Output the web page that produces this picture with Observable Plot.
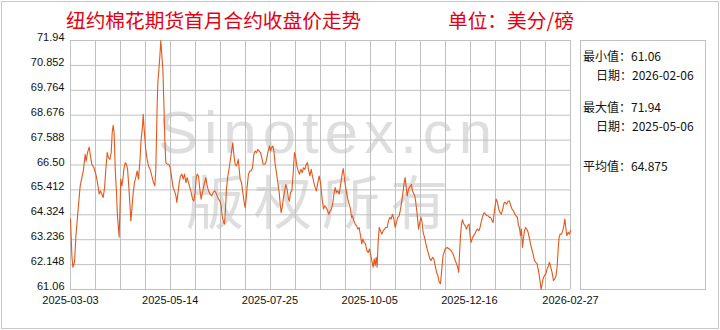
<!DOCTYPE html>
<html><head><meta charset="utf-8">
<script src="https://cdn.jsdelivr.net/npm/d3@7"></script>
<script src="https://cdn.jsdelivr.net/npm/@observablehq/plot@0.6"></script>
<style>
body{margin:0;background:#fff;}
#wrap{position:relative;width:720px;height:330px;overflow:hidden;background:#fff;font-family:"Noto Sans CJK SC",sans-serif;}
#frame{position:absolute;left:1px;top:1px;width:716px;height:326px;border:1px solid #c8c8c8;}
#wm{position:absolute;left:158px;top:108px;color:#dedede;white-space:nowrap;}
#wm1{display:block;font:60px/50px "Liberation Sans",Arial,sans-serif;letter-spacing:6px;}
#wm2{display:block;margin-left:28px;margin-top:14px;font:58px/54px "Noto Sans CJK SC",sans-serif;letter-spacing:10px;}
#chart{position:absolute;left:0;top:0;}
.ttl{position:absolute;top:8px;font-size:19.7px;line-height:24px;color:#e50012;white-space:nowrap;}
#title{left:66px;}
#unit{left:448px;}
#panel{position:absolute;left:580px;top:40px;width:124px;height:248px;border:1px solid #c0c0c0;}
.pl{position:absolute;font-size:12px;line-height:16px;color:#111;white-space:nowrap;}
</style></head><body>
<div id="wrap">
 <div id="frame"></div>
 <div id="wm"><span id="wm1">Sinotex.cn</span><span id="wm2">版权所有</span></div>
 <div id="chart"></div>
 <div id="title" class="ttl"></div>
 <div id="unit" class="ttl"></div>
 <div id="panel"></div>
 <div id="pl1" class="pl" style="left:583px;top:48px"></div>
 <div id="pl2" class="pl" style="left:596px;top:67px"></div>
 <div id="pl3" class="pl" style="left:583px;top:99px"></div>
 <div id="pl4" class="pl" style="left:596px;top:118px"></div>
 <div id="pl5" class="pl" style="left:583px;top:158px"></div>
</div>
<script>
const titleText = "纽约棉花期货首月合约收盘价走势";
const unitText = "单位：美分/磅";
const startDate = "2025-03-03";
const endDate = "2026-02-27";
const xTickLabels = ["2025-03-03","2025-05-14","2025-07-25","2025-10-05","2025-12-16","2026-02-27"];
const yTicks = [61.06,62.148,63.236,64.324,65.412,66.50,67.588,68.676,69.764,70.852,71.94];
const yTickLabels = ["61.06","62.148","63.236","64.324","65.412","66.50","67.588","68.676","69.764","70.852","71.94"];
const minValue = "61.06", minDate = "2026-02-06";
const maxValue = "71.94", maxDate = "2025-05-06";
const avgValue = "64.875";

// days after startDate
const dayOffset = [
0,1.0,1.7,2.9,3.9,5.3,7.0,8.2,9.4,10.6,11.3,12.3,13.5,14.4,15.4,16.9,18.3,19.5,20.7,21.7,22.6,23.6,24.6,25.5,26.5,27.4,28.4,29.4,30.1,30.8,31.5,32.3,33.2,33.9,34.7,35.1,35.6,36.3,37.1,37.8,38.5,39.5,40.4,41.2,41.9,42.8,43.6,44.3,45.3,46.2,47.4,48.1,49.1,50.1,51.0,52.0,52.5,53.2,54.2,55.1,56.3,57.5,58.7,59.9,60.9,61.6,62.1,62.6,63.1,63.8,64.5,65.2,66.0,66.7,67.4,68.1,68.8,70.0,71.2,72.2,73.2,74.1,75.1,76.1,76.8,77.5,78.5,79.4,80.4,81.4,82.3,83.3,84.2,85.2,86.2,87.1,88.1,89.1,90.0,90.7,
91.4,92.4,93.4,94.3,95.3,96.5,97.7,98.7,99.6,100.8,102.0,103.0,104.0,104.9,105.9,106.9,107.8,108.8,109.5,110.5,111.2,111.9,112.6,113.6,114.6,115.5,116.5,117.2,117.9,118.9,119.6,120.3,121.1,121.8,122.5,123.5,124.4,125.4,126.1,126.8,127.6,128.5,129.5,130.4,131.4,132.4,133.3,134.3,135.3,136.2,137.2,138.1,139.1,140.1,141.0,142.0,143.0,143.7,144.4,145.1,146.1,146.8,147.8,148.7,149.7,150.7,151.4,152.1,152.8,153.6,154.5,155.5,156.4,157.4,158.1,158.8,159.8,160.8,161.7,162.5,163.4,164.4,165.3,166.3,167.3,168.2,169.2,170.2,171.1,171.8,172.8,173.8,174.7,175.7,176.7,177.6,178.6,179.5,180.5,
181.0,181.7,182.7,183.6,184.6,185.6,186.5,187.5,188.4,189.4,190.4,191.1,192.0,193.0,194.0,194.9,195.9,196.9,197.6,198.3,199.3,200.2,201.2,202.2,202.9,203.6,204.6,205.5,206.5,207.5,208.4,209.4,210.3,211.1,212.0,213.0,214.0,214.9,215.9,216.8,217.8,218.5,219.3,220.0,220.7,221.4,222.1,222.9,223.8,224.8,225.8,226.7,227.7,228.6,229.6,230.6,231.5,232.5,233.5,234.4,235.4,236.3,237.3,238.3,239.2,240.2,240.9,241.6,242.4,243.1,243.8,244.5,245.5,246.2,246.9,247.9,248.6,249.3,250.3,251.3,252.2,253.0,253.9,254.6,255.6,256.6,257.5,258.5,259.5,260.4,261.4,262.3,263.3,264.3,265.2,266.2,267.1,
268.1,269.0,270.5,271.9,273.4,274.8,276.2,277.4,278.7,279.6,280.3,280.8,281.5,282.3,283.0,284.0,284.9,285.9,286.8,287.8,288.5,289.2,290.0,290.9,291.9,292.9,293.8,294.8,295.7,296.7,297.7,298.6,299.6,300.6,301.5,302.5,303.4,304.4,305.1,305.9,306.6,307.3,308.3,309.2,310.2,311.1,312.1,313.1,314.0,315.0,316.0,316.9,317.9,318.8,319.8,320.8,321.7,322.7,323.4,324.1,324.9,325.6,326.3,327.0,327.8,328.5,329.4,330.4,331.4,332.1,333.0,334.0,335.0,335.9,336.9,337.6,338.3,339.1,339.8,340.5,341.2,342.2,343.2,344.1,345.1,345.8,346.8,347.7,348.7,349.7,350.6,351.4,352.1,352.8,353.5,354.5,355.4,356.2,356.9,357.6,358.3,359.3,360.2,361.0
];
const closePrice = [
64.14,62.54,62.03,62.25,63.41,64.42,65.59,65.95,66.31,66.97,66.67,67.04,67.28,66.89,66.53,66.38,66.10,65.73,65.23,65.37,65.23,65.08,65.51,66.31,67.04,66.82,66.75,67.04,67.91,68.23,67.91,66.31,65.30,64.28,63.70,63.34,64.28,65.88,65.59,65.88,66.31,66.60,66.53,66.31,65.73,64.86,64.06,64.57,65.30,65.73,66.02,66.24,65.88,66.67,67.62,68.20,68.71,68.05,67.25,66.82,66.46,66.31,66.02,65.73,65.59,66.31,67.76,69.21,70.16,70.66,71.24,71.94,71.24,70.66,69.21,67.62,66.60,66.53,66.53,66.31,65.88,65.51,65.37,65.15,64.86,65.23,65.73,66.02,66.10,65.88,66.10,65.73,65.95,65.73,65.51,65.30,65.01,64.93,65.30,65.88,
66.10,66.02,65.44,65.01,65.30,65.66,65.95,65.59,65.37,65.23,65.15,65.30,65.37,65.30,65.15,65.01,64.93,64.72,64.28,63.99,63.92,64.57,65.44,66.02,66.38,66.75,67.18,67.47,66.97,66.53,66.46,66.53,66.75,66.31,65.88,65.73,65.30,64.86,64.64,65.01,65.59,66.10,66.24,66.24,66.38,66.97,67.11,67.04,67.18,67.11,67.04,66.82,66.53,66.53,66.60,66.89,67.18,67.33,67.11,67.25,67.33,67.11,66.53,66.17,65.73,65.30,64.79,64.42,64.64,65.01,65.30,65.66,65.44,65.01,64.93,65.30,65.37,66.17,67.04,66.89,66.46,66.24,66.10,66.31,66.17,66.38,66.31,66.53,66.60,66.31,66.02,66.31,66.02,65.73,65.51,65.37,65.73,66.02,65.73,
65.44,65.01,64.57,64.72,64.64,64.50,64.35,64.50,64.57,64.86,65.30,65.51,65.30,65.37,65.23,65.59,66.02,66.34,66.02,65.66,65.30,65.01,64.79,64.57,64.21,64.28,64.06,63.92,63.85,63.70,63.77,63.41,63.05,63.27,63.12,63.05,62.76,62.68,62.83,62.54,62.25,62.03,62.40,62.10,62.47,62.03,63.12,63.77,63.63,63.48,63.63,63.70,63.77,63.77,64.06,64.21,64.14,64.35,64.14,63.77,63.99,64.21,64.28,64.57,64.93,65.37,65.73,65.95,65.51,65.15,65.37,65.51,65.59,65.66,65.37,65.23,65.15,64.86,64.35,63.70,63.99,64.21,63.99,63.56,63.34,63.05,62.83,62.61,62.40,62.32,62.47,62.40,62.10,61.81,61.67,61.38,61.31,
61.96,62.54,62.83,62.90,62.83,62.76,62.61,62.40,62.18,62.03,61.81,62.54,63.34,63.92,64.11,63.92,63.85,63.70,63.85,63.92,63.41,63.12,63.27,63.41,63.48,63.63,63.70,63.63,63.77,64.06,64.28,64.42,64.35,64.28,64.28,64.21,64.21,64.06,63.99,64.42,64.72,65.01,64.86,64.57,64.42,64.35,64.57,64.86,64.86,64.79,64.93,64.93,64.72,64.57,64.50,64.35,64.28,64.21,63.85,63.77,63.41,63.70,62.90,63.27,63.63,63.77,63.70,63.56,63.27,63.05,62.83,62.61,62.32,62.25,62.18,61.96,61.74,61.38,61.06,61.31,61.53,61.67,61.74,61.96,62.10,62.25,62.03,61.81,61.45,61.53,61.67,62.10,62.83,63.34,63.48,63.48,63.63,63.85,64.14,63.77,63.41,63.56,63.48,63.63
];

document.getElementById("title").textContent = titleText;
document.getElementById("unit").textContent = unitText;
document.getElementById("pl1").textContent = "最小值：" + minValue;
document.getElementById("pl2").textContent = "日期：" + minDate;
document.getElementById("pl3").textContent = "最大值：" + maxValue;
document.getElementById("pl4").textContent = "日期：" + maxDate;
document.getElementById("pl5").textContent = "平均值：" + avgValue;

const parse = d3.utcParse("%Y-%m-%d");
const start = parse(startDate), end = parse(endDate);
const data = dayOffset.map((d, i) => ({date: new Date(+start + d * 864e5), value: closePrice[i]}));
const xTicks = xTickLabels.map(parse);
const xGrid = d3.range(21).map(i => new Date(+start + (end - start) * i / 20));
const fmt = d3.utcFormat("%Y-%m-%d");

const chart = Plot.plot({
  width: 720, height: 330,
  marginLeft: 70, marginRight: 150, marginTop: 40, marginBottom: 41,
  style: {background: "transparent", fontFamily: "'Liberation Sans', Arial, sans-serif", fontSize: "11px", color: "#111", overflow: "visible"},
  x: {type: "utc", domain: [start, end]},
  y: {domain: [yTicks[0], yTicks[yTicks.length - 1]]},
  marks: [
    Plot.ruleX(xGrid, {stroke: "#c0c0c0", strokeWidth: 1}),
    Plot.ruleY(yTicks, {stroke: "#c0c0c0", strokeWidth: 1}),
    Plot.axisY(yTicks, {tickSize: 0, tickPadding: 6, dy: -3, label: null, fill: "#111",
      tickFormat: d => yTickLabels[yTicks.indexOf(d)]}),
    Plot.axisX(xTicks, {tickSize: 0, tickPadding: 7, label: null, fill: "#111", tickFormat: d => fmt(d)}),
    Plot.line(data, {x: "date", y: "value", stroke: "#e2581c", strokeWidth: 1.1})
  ]
});
document.getElementById("chart").appendChild(chart);
</script>
</body></html>
